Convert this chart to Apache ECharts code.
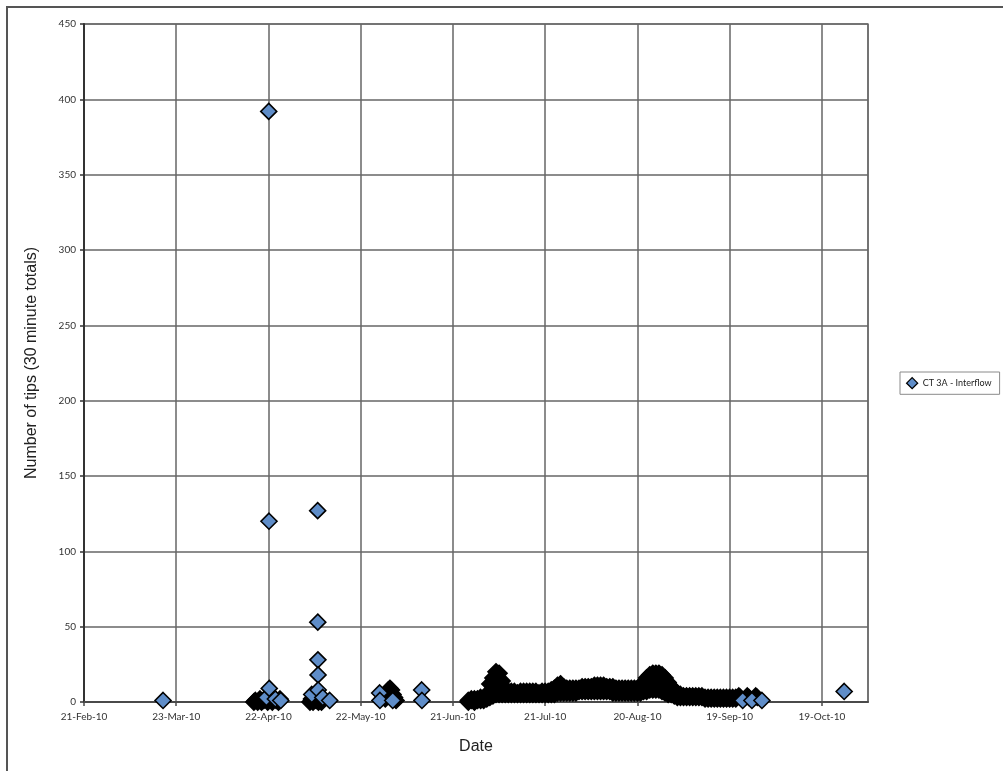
<!DOCTYPE html>
<html><head><meta charset="utf-8">
<script src="https://cdn.jsdelivr.net/npm/echarts@6/dist/echarts.min.js"></script>
<style>html,body{margin:0;padding:0;background:#fff}#c{width:1003px;height:771px}</style>
</head><body><div id="c"></div>
<script>
// ---------------- DATA ----------------
const seriesName = 'CT 3A - Interflow';
const xAxisStart = '2010-02-21';   // first tick (21-Feb-10)
const xAxisEnd = '2010-11-03';     // right edge of plot
const xTickDays = 30;
const yMin = 0, yMax = 450, yStep = 50;

// isolated readings (drawn with blue diamonds)
const blueDates = [
  '2010-03-18 17:00',
  '2010-04-21 08:00', '2010-04-22 02:00', '2010-04-22 04:00', '2010-04-22 06:00', '2010-04-24 06:00', '2010-04-26 00:00',
  '2010-05-06 02:00', '2010-05-08 00:00', '2010-05-08 01:00', '2010-05-08 02:00', '2010-05-08 03:00', '2010-05-08 04:00',
  '2010-05-09 16:00', '2010-05-11 22:00',
  '2010-05-28 04:00', '2010-05-28 06:00', '2010-06-01 10:00', '2010-06-10 20:00', '2010-06-10 22:00',
  '2010-09-23 06:00', '2010-09-26 06:00', '2010-09-29 12:00',
  '2010-10-26 06:00'
];
const blueTips = [
  1,
  3, 392, 120, 9, 2, 1,
  5, 127, 53, 28, 18, 8,
  3, 1,
  6, 1, 1, 8, 1,
  1, 1, 1,
  7
];

// closely spaced 30-minute readings in the clusters (overlapping markers look black)
const clusterDates = [
  '2010-04-17 06:00', '2010-04-17 18:00', '2010-04-18 12:00', '2010-04-19 06:00', '2010-04-19 18:00',
  '2010-04-20 12:00', '2010-04-21 06:00', '2010-04-21 18:00', '2010-04-22 12:00', '2010-04-23 06:00',
  '2010-04-23 18:00', '2010-04-24 12:00', '2010-04-25 06:00', '2010-04-25 18:00',
  '2010-05-05 12:00', '2010-05-06 00:00', '2010-05-06 12:00', '2010-05-07 00:00', '2010-05-07 12:00',
  '2010-05-08 06:00', '2010-05-08 18:00', '2010-05-09 06:00',
  '2010-05-30 00:00', '2010-05-30 12:00', '2010-05-31 00:00', '2010-05-31 12:00', '2010-06-01 00:00',
  '2010-06-01 12:00', '2010-06-02 00:00', '2010-06-02 12:00',
  '2010-09-22 00:00', '2010-09-22 12:00', '2010-09-24 18:00', '2010-09-25 06:00', '2010-09-27 12:00', '2010-09-28 00:00'
];
const clusterTips = [
  0, 1, 0, 2, 0,
  1, 3, 0, 2, 0,
  3, 1, 0, 2,
  0, 2, 0, 3, 1,
  0, 2, 0,
  2, 5, 8, 9, 8,
  5, 3, 1,
  4, 3, 4, 3, 4, 3
];

// continuous record Jun–Sep: daily low / middle / high readings
const bandDates = [
  '2010-06-26','2010-06-27','2010-06-28','2010-06-29','2010-06-30',
  '2010-07-01','2010-07-02','2010-07-03','2010-07-04','2010-07-05','2010-07-06','2010-07-07','2010-07-08','2010-07-09','2010-07-10',
  '2010-07-11','2010-07-12','2010-07-13','2010-07-14','2010-07-15','2010-07-16','2010-07-17','2010-07-18','2010-07-19','2010-07-20',
  '2010-07-21','2010-07-22','2010-07-23','2010-07-24','2010-07-25','2010-07-26','2010-07-27','2010-07-28','2010-07-29','2010-07-30','2010-07-31',
  '2010-08-01','2010-08-02','2010-08-03','2010-08-04','2010-08-05','2010-08-06','2010-08-07','2010-08-08','2010-08-09','2010-08-10',
  '2010-08-11','2010-08-12','2010-08-13','2010-08-14','2010-08-15','2010-08-16','2010-08-17','2010-08-18','2010-08-19','2010-08-20',
  '2010-08-21','2010-08-22','2010-08-23','2010-08-24','2010-08-25','2010-08-26','2010-08-27','2010-08-28','2010-08-29','2010-08-30','2010-08-31',
  '2010-09-01','2010-09-02','2010-09-03','2010-09-04','2010-09-05','2010-09-06','2010-09-07','2010-09-08','2010-09-09','2010-09-10',
  '2010-09-11','2010-09-12','2010-09-13','2010-09-14','2010-09-15','2010-09-16','2010-09-17','2010-09-18','2010-09-19','2010-09-20','2010-09-21'
];
const bandLow = [
  0,1,0,1,1,
  1,2,3,4,5,5,5,5,5,5,
  5,5,5,5,5,5,5,5,5,5,
  5,5,5,5,6,6,6,6,6,6,6,
  7,7,7,7,7,7,7,7,7,7,
  7,6,6,6,6,6,6,6,6,6,
  6,7,7,8,8,8,8,7,6,5,5,
  4,3,3,3,3,3,3,3,3,3,
  2,2,2,2,2,2,2,2,2,2,2
];
const bandMid = [
  null,null,null,null,null,
  null,null,7,10,12,12,10,null,null,null,
  null,null,null,null,null,null,null,null,null,null,
  null,null,null,null,null,null,null,null,null,null,null,
  null,null,null,null,null,null,null,null,null,null,
  null,null,null,null,null,null,null,null,null,null,
  null,10,11,13,13,13,13,12,10,null,null,
  null,null,null,null,null,null,null,null,null,null,
  null,null,null,null,null,null,null,null,null,null,null
];
const bandHigh = [
  1,2,2,2,3,
  3,4,12,16,20,19,14,9,7,7,
  7,6,7,7,7,7,7,7,6,7,
  7,7,8,9,11,12,10,9,9,9,9,
  9,10,10,10,10,11,11,11,11,10,
  10,10,9,9,9,9,9,9,9,9,
  10,13,16,18,19,19,19,18,16,13,10,
  8,6,5,4,4,4,4,4,4,4,
  3,3,3,3,3,3,3,3,3,3,3
];

// ---------------- HELPERS ----------------
const MONTHS = ['Jan','Feb','Mar','Apr','May','Jun','Jul','Aug','Sep','Oct','Nov','Dec'];
const EPOCH = Date.UTC(1899, 11, 30);
function toSerial(s) {
  const parts = s.split(' ');
  const [Y, M, D] = parts[0].split('-').map(Number);
  let h = 0, m = 0;
  if (parts[1]) [h, m] = parts[1].split(':').map(Number);
  return (Date.UTC(Y, M - 1, D, h, m) - EPOCH) / 86400000;
}
function serialLabel(v) {
  const d = new Date(EPOCH + Math.round(v) * 86400000);
  return d.getUTCDate() + '-' + MONTHS[d.getUTCMonth()] + '-' + String(d.getUTCFullYear()).slice(2);
}
const xMin = toSerial(xAxisStart), xMax = toSerial(xAxisEnd);

const blueData = blueDates.map((d, i) => [toSerial(d), blueTips[i]]);
const blackData = clusterDates.map((d, i) => [toSerial(d), clusterTips[i]]);
bandDates.forEach((d, i) => {
  const x = toSerial(d);
  blackData.push([x, bandLow[i]]);
  if (bandMid[i] !== null) blackData.push([x, bandMid[i]]);
  blackData.push([x, bandHigh[i]]);
});

// ---------------- CHART ----------------
const chart = echarts.init(document.getElementById('c'), null, { renderer: 'canvas' });
const tickFont = 'Lato, "Open Sans", sans-serif';
const gridColor = '#666666';
const markSize = 16;
chart.setOption({
  animation: false,
  backgroundColor: '#ffffff',
  graphic: [{
    type: 'rect', z: 100, silent: true,
    shape: { x: 7, y: 7, width: 1200, height: 900 },
    style: { fill: 'none', stroke: '#555', lineWidth: 2 }
  }],
  grid: {
    left: 84, right: 135, top: 24, bottom: 69,
    show: true, borderColor: '#808080', borderWidth: 1.5, backgroundColor: 'transparent'
  },
  legend: {
    left: 900, top: 372, orient: 'vertical',
    borderColor: '#8a8a8a', borderWidth: 1, padding: [5, 8, 5, 6],
    itemWidth: 11, itemHeight: 11, itemGap: 4,
    textStyle: { fontFamily: tickFont, fontSize: 9, color: '#222' },
    data: [{ name: seriesName, icon: 'diamond',
      itemStyle: { color: '#5f8dc8', borderColor: '#000', borderWidth: 1.3 } }]
  },
  xAxis: {
    type: 'value', min: xMin, max: xMax, interval: xTickDays,
    name: 'Date', nameLocation: 'middle', nameGap: 37,
    nameTextStyle: { fontFamily: '"Liberation Sans", Arial, sans-serif', fontSize: 16, color: '#222' },
    axisLine: { show: true, onZero: true, lineStyle: { color: '#4a4a4a', width: 2 } },
    axisTick: { show: true, length: 4, lineStyle: { color: '#4a4a4a', width: 1.5 } },
    axisLabel: {
      margin: 10, fontFamily: tickFont, fontSize: 10, color: '#333', showMaxLabel: false,
      formatter: v => ((Math.round(v) - xMin) % xTickDays === 0 ? serialLabel(v) : '')
    },
    splitLine: { show: true, lineStyle: { color: gridColor, width: 1.5 } }
  },
  yAxis: {
    type: 'value', min: yMin, max: yMax, interval: yStep,
    name: 'Number of tips (30 minute totals)', nameLocation: 'middle', nameGap: 44,
    nameTextStyle: { fontFamily: '"Liberation Sans", Arial, sans-serif', fontSize: 16, color: '#222' },
    axisLine: { show: true, lineStyle: { color: '#333', width: 2 } },
    axisTick: { show: true, length: 4, lineStyle: { color: '#333', width: 1.5 } },
    axisLabel: { margin: 8, fontFamily: tickFont, fontSize: 10, color: '#333' },
    splitLine: { show: true, lineStyle: { color: gridColor, width: 1.5 } }
  },
  series: [
    {
      name: seriesName, type: 'scatter', z: 3, symbol: 'diamond', symbolSize: markSize,
      itemStyle: { color: '#5f8dc8', borderColor: '#000', borderWidth: 1.6, opacity: 1 },
      data: blueData
    },
    {
      name: seriesName, type: 'scatter', z: 2, symbol: 'diamond', symbolSize: markSize, large: false,
      itemStyle: { color: '#000', borderColor: '#000', borderWidth: 1.6, opacity: 1 },
      data: blackData
    }
  ]
});
</script>
</body></html>
